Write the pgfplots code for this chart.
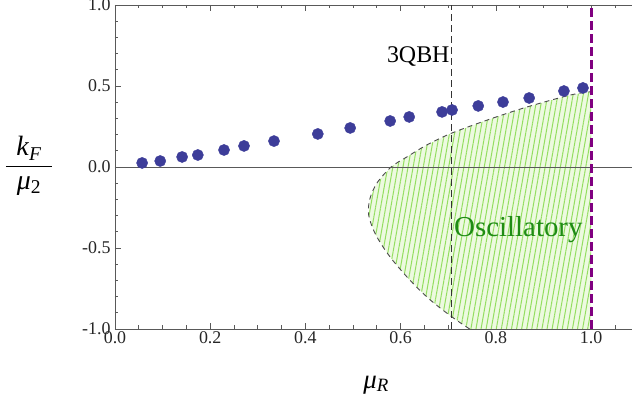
\documentclass[border=0pt]{standalone}
\usepackage{fontspec}
\setmainfont{Liberation Serif}
\usepackage{pgfplots}
\pgfplotsset{compat=1.18}
\usetikzlibrary{patterns.meta}

\definecolor{dotblue}{rgb}{0.24,0.24,0.6}
\definecolor{oscgreen}{rgb}{0.12,0.55,0.08}
\definecolor{hatchgreen}{rgb}{0.58,0.87,0.38}
\definecolor{palegreen}{rgb}{0.93,0.98,0.88}
\definecolor{framegray}{gray}{0.35}
\definecolor{mmpurple}{rgb}{0.5,0,0.5}

% boundary of the oscillatory region
\pgfplotstableread{
x      y
0.745 -1.000
0.708 -0.926
0.662 -0.820
0.620 -0.700
0.578 -0.556
0.548 -0.420
0.533 -0.300
0.535 -0.200
0.550 -0.100
0.580  0.000
0.613  0.062
0.655  0.136
0.708  0.210
0.788  0.296
0.865  0.370
0.956  0.444
1.000  0.465
}\boundary

\pgfplotstableread{
x      y
0.057  0.025
0.095  0.037
0.141  0.062
0.174  0.074
0.229  0.105
0.271  0.130
0.334  0.160
0.426  0.204
0.494  0.241
0.578  0.284
0.618  0.309
0.687  0.340
0.708  0.352
0.763  0.377
0.815  0.401
0.870  0.426
0.943  0.469
0.983  0.488
}\points

\begin{document}
\begin{tikzpicture}
\begin{axis}[
  at={(0,0)}, anchor=south west,
  scale only axis, width=517bp, height=324bp,
  xmin=0, xmax=1.086, ymin=-1, ymax=1,
  axis x line*=box, axis y line*=left,
  axis line style={framegray, line width=0.8bp},
  xtick={0,0.2,...,1.0}, ytick={-1,-0.5,0,0.5,1},
  minor xtick={0.05,0.1,0.15,0.25,0.3,0.35,0.45,0.5,0.55,0.65,0.7,0.75,0.85,0.9,0.95,1.05},
  minor ytick={-0.9,-0.8,-0.7,-0.6,-0.4,-0.3,-0.2,-0.1,0.1,0.2,0.3,0.4,0.6,0.7,0.8,0.9},
  tick align=inside,
  major tick length=6bp, minor tick length=3.5bp,
  tick style={framegray, line width=0.7bp},
  ticklabel style={font=\fontsize{18}{20}\selectfont, text=black!85},
  /pgf/number format/assume math mode=true,
  /pgf/number format/.cd, fixed, fixed zerofill, precision=1, /pgfplots/.cd,
  xticklabel style={yshift=1bp},
  yticklabel style={xshift=-1bp},
]
% shaded region
\addplot[draw=none, fill=palegreen,
  postaction={pattern={Lines[angle=80,distance=5bp,line width=1bp]}, pattern color=hatchgreen}]
  table[x=x,y=y] {\boundary} -- (axis cs:1,-1) -- cycle;
% dashed boundary
\addplot[black!70, line width=0.9bp, dash pattern=on 5bp off 4bp, smooth, tension=0.5]
  table[x=x,y=y] {\boundary};
% zero line
\addplot[black!65, line width=0.8bp] coordinates {(0,0) (1.086,0)};
% 3QBH line
\addplot[black!80, line width=0.8bp, dash pattern=on 7bp off 4bp] coordinates {(0.707,-1) (0.707,1)};
% mu_R = 1 line
\addplot[mmpurple, line width=3bp, dash pattern=on 9bp off 4bp] coordinates {(1,-1) (1,1)};
% data points
\addplot[only marks, mark=*, mark size=5.6bp, mark options={draw=dotblue, fill=dotblue}]
  table[x=x,y=y] {\points};
\node[anchor=base west, inner sep=0pt, font=\fontsize{24}{26}\selectfont] at (axis cs:0.571,0.648) {3QBH};
\node[anchor=base west, inner sep=0pt, font=\fontsize{29}{32}\selectfont, text=oscgreen] at (axis cs:0.712,-0.432) {Oscillatory};
\end{axis}
\node[font=\fontsize{28}{32}\selectfont] at (-86bp,163bp)
  {$\displaystyle\frac{\makebox[46bp]{\textit{k}\textsubscript{\textit{F}}}}{\makebox[46bp]{\textit{μ}\textsubscript{2}}}$};
\node[anchor=base, font=\fontsize{27}{30}\selectfont] at (261bp,-59bp) {\textit{μ}\textsubscript{\textit{R}}};
\pgfresetboundingbox
\useasboundingbox (-115bp,-79bp) rectangle (517bp,329bp);
\end{tikzpicture}
\end{document}
